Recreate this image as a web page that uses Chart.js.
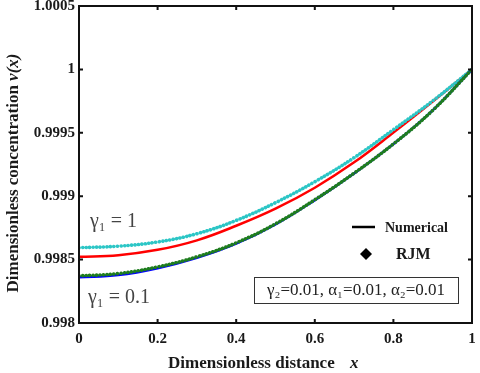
<!DOCTYPE html>
<html>
<head>
<meta charset="utf-8">
<script src="https://cdn.jsdelivr.net/npm/chart.js@4.4.1/dist/chart.umd.min.js"></script>
<style>
  html, body { margin: 0; padding: 0; background: #fff; }
</style>
</head>
<body>
<canvas id="chart" width="480" height="373"></canvas>
<script>
// values
var xs = [0, 0.1, 0.2, 0.3, 0.4, 0.5, 0.6, 0.7, 0.8, 0.9, 1];
var numericalG1 = [0.998522, 0.998535, 0.998577, 0.998652, 0.998767, 0.998902, 0.999067, 0.999267, 0.999502, 0.999747, 1.0];
var numericalG01 = [0.998360, 0.998378, 0.998432, 0.998514, 0.998626, 0.998778, 0.998969, 0.999180, 0.999411, 0.999677, 1.0];
var rjmG1 = [0.998594, 0.998606, 0.998639, 0.998704, 0.998809, 0.998949, 0.999114, 0.999304, 0.999525, 0.999752, 1.0];
var rjmG01 = [0.998372, 0.998390, 0.998442, 0.998522, 0.998632, 0.998782, 0.998972, 0.999182, 0.999412, 0.999677, 1.0];
var xTicks = [0, 0.2, 0.4, 0.6, 0.8, 1];
var yTicks = [0.998, 0.9985, 0.999, 0.9995, 1, 1.0005];
var yTickLabels = ["0.998", "0.9985", "0.999", "0.9995", "1", "1.0005"];

function toPoints(ys) {
  return xs.map(function (x, i) { return { x: x, y: ys[i] }; });
}

var serif = '"Liberation Serif", "Times New Roman", serif';

// frame with inward ticks, like the original plot
var framePlugin = {
  id: "frame",
  afterDatasetsDraw: function (chart) {
    var ctx = chart.ctx;
    var a = chart.chartArea;
    var sx = chart.scales.x, sy = chart.scales.y;
    ctx.save();
    ctx.strokeStyle = "#111";
    ctx.lineWidth = 2;
    ctx.strokeRect(a.left, a.top, a.right - a.left, a.bottom - a.top);
    ctx.beginPath();
    xTicks.forEach(function (v) {
      var px = sx.getPixelForValue(v);
      ctx.moveTo(px, a.bottom); ctx.lineTo(px, a.bottom - 4);
      ctx.moveTo(px, a.top); ctx.lineTo(px, a.top + 4);
    });
    yTicks.forEach(function (v) {
      var py = sy.getPixelForValue(v);
      ctx.moveTo(a.left, py); ctx.lineTo(a.left + 4, py);
      ctx.moveTo(a.right, py); ctx.lineTo(a.right - 4, py);
    });
    ctx.stroke();
    ctx.restore();
  }
};

// titles, curve labels, legend and parameter box
var notesPlugin = {
  id: "notes",
  afterDraw: function (chart) {
    var ctx = chart.ctx;
    ctx.save();
    ctx.fillStyle = "#1a1a1a";
    ctx.textBaseline = "middle";

    // x axis title
    ctx.textAlign = "left";
    ctx.font = "bold 17px " + serif;
    ctx.fillText("Dimensionless distance", 168, 364);
    ctx.font = "italic bold 17px " + serif;
    ctx.fillText("x", 350, 364);

    // y axis title
    ctx.save();
    ctx.translate(14, 173);
    ctx.rotate(-Math.PI / 2);
    ctx.font = "bold 17px " + serif;
    var t1 = "Dimensionless concentration ";
    var w1 = ctx.measureText(t1).width;
    ctx.font = "italic bold 17px " + serif;
    var w2 = ctx.measureText("v(x)").width;
    var start = -(w1 + w2) / 2;
    ctx.font = "bold 17px " + serif;
    ctx.fillText(t1, start, 0);
    ctx.font = "italic bold 17px " + serif;
    ctx.fillText("v(x)", start + w1, 0);
    ctx.restore();

    // curve labels
    ctx.fillStyle = "#444";
    ctx.font = "20px " + serif;
    ctx.fillText("\u03b3\u2081 = 1", 90, 222);
    ctx.fillText("\u03b3\u2081 = 0.1", 88, 298);

    // legend
    ctx.fillStyle = "#1a1a1a";
    ctx.strokeStyle = "#000";
    ctx.lineWidth = 2.5;
    ctx.beginPath();
    ctx.moveTo(352, 227); ctx.lineTo(375, 227);
    ctx.stroke();
    ctx.font = "bold 14px " + serif;
    ctx.fillText("Numerical", 385, 228);
    ctx.fillStyle = "#000";
    ctx.beginPath();
    ctx.moveTo(366, 248); ctx.lineTo(372, 254); ctx.lineTo(366, 260); ctx.lineTo(360, 254);
    ctx.closePath();
    ctx.fill();
    ctx.fillStyle = "#1a1a1a";
    ctx.font = "bold 16px " + serif;
    ctx.fillText("RJM", 396, 255);

    // parameter box
    ctx.strokeStyle = "#333";
    ctx.lineWidth = 1;
    ctx.strokeRect(254.5, 277.5, 204, 26);
    ctx.font = "17px " + serif;
    ctx.textAlign = "center";
    ctx.fillStyle = "#222";
    ctx.fillText("\u03b3\u2082=0.01, \u03b1\u2081=0.01, \u03b1\u2082=0.01", 356, 291, 198);
    ctx.restore();
  }
};

var dotted = { borderDash: [0.1, 3.4], borderCapStyle: "round", borderWidth: 3.6 };

new Chart(document.getElementById("chart"), {
  type: "line",
  data: {
    datasets: [
      Object.assign({ label: "RJM gamma1=0.1", data: toPoints(rjmG01), borderColor: "#1e7d1e", order: 1 }, dotted),
      { label: "Numerical gamma1=0.1", data: toPoints(numericalG01), borderColor: "#0000ff", borderWidth: 2.5, order: 2 },
      Object.assign({ label: "RJM gamma1=1", data: toPoints(rjmG1), borderColor: "#2cc6c6", order: 3 }, dotted),
      { label: "Numerical gamma1=1", data: toPoints(numericalG1), borderColor: "#ff0000", borderWidth: 2.5, order: 4 }
    ]
  },
  options: {
    responsive: false,
    animation: false,
    devicePixelRatio: 1,
    layout: { padding: { top: 6, right: 8, left: 0, bottom: 0 } },
    elements: {
      point: { radius: 0 },
      line: { tension: 0.4, fill: false }
    },
    plugins: { legend: { display: false }, tooltip: { enabled: false } },
    scales: {
      x: {
        type: "linear",
        min: 0,
        max: 1,
        grid: { display: false, drawTicks: false },
        border: { display: false },
        afterFit: function (s) { s.height = 50; s.paddingLeft = 0; s.paddingRight = 0; },
        afterBuildTicks: function (s) { s.ticks = xTicks.map(function (v) { return { value: v }; }); },
        ticks: {
          padding: 7,
          color: "#1a1a1a",
          font: { family: serif, size: 15, weight: "bold" },
          callback: function (v) { return String(v); }
        }
      },
      y: {
        type: "linear",
        min: 0.998,
        max: 1.0005,
        grid: { display: false, drawTicks: false },
        border: { display: false },
        afterFit: function (s) { s.width = 79; s.paddingTop = 0; s.paddingBottom = 0; },
        afterBuildTicks: function (s) { s.ticks = yTicks.map(function (v) { return { value: v }; }); },
        ticks: {
          padding: 4,
          color: "#1a1a1a",
          font: { family: serif, size: 15, weight: "bold" },
          callback: function (v, i) { return yTickLabels[i]; }
        }
      }
    }
  },
  plugins: [framePlugin, notesPlugin]
});
</script>
</body>
</html>
